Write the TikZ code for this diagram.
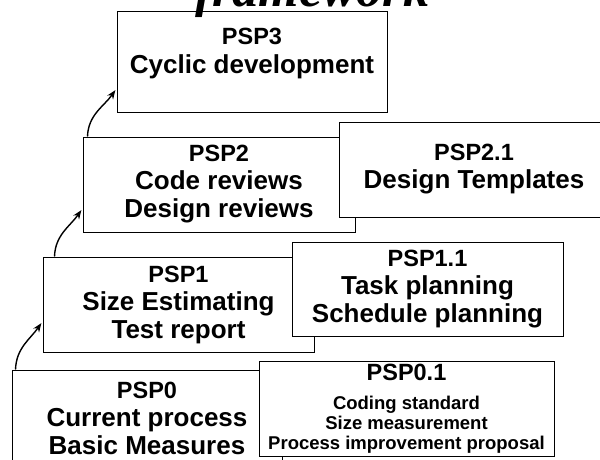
\documentclass[tikz,border=0pt]{standalone}
\usepackage{fontspec}
\setmainfont{Liberation Sans}
\newfontfamily\titlefont{Liberation Serif}
\usetikzlibrary{arrows.meta,positioning}

\begin{document}
\begin{tikzpicture}
    [
        x=1pt, y=-1pt,
        stage/.style={draw, fill=white, line width=1pt, align=center, inner sep=0pt,
            font=\fontsize{26}{28}\selectfont\bfseries},
        step up/.style={-{Stealth[length=9pt,width=7pt]}, line width=1.4pt, shorten >=2pt},
    ]
    \useasboundingbox (0,0) rectangle (600,459);
    \clip (0,0) rectangle (600,459);

    \node[stage, minimum width=270, minimum height=101,
        label={[anchor=north, align=center, inner sep=0pt, yshift=-17pt,
            font=\fontsize{26}{29}\selectfont\bfseries]north:{{\fontsize{23.5}{29}\selectfont PSP3}\\Cyclic development}}]
        (psp3) at (252, 61.5) {};
    \node[stage, minimum width=272, minimum height=95] (psp2) at (219, 184.5)
        {{\fontsize{23.5}{28}\selectfont PSP2}\\Code reviews\\Design reviews};
    \node[stage, minimum width=270, minimum height=95] (psp21) at (474, 169.5)
        {{\fontsize{23.5}{28}\selectfont PSP2.1}\\Design Templates};
    \node[stage, minimum width=271, minimum height=95] (psp1) at (178.5, 304.5)
        {{\fontsize{23.5}{28}\selectfont PSP1}\\Size Estimating\\Test report};
    \node[stage, minimum width=271, minimum height=94] (psp11) at (427.5, 289)
        {{\fontsize{23.5}{28}\selectfont PSP1.1}\\Task planning\\Schedule planning};
    \node[stage, minimum width=270, minimum height=96] (psp0) at (147, 418)
        {{\fontsize{23.5}{28}\selectfont PSP0}\\Current process\\Basic Measures};
    \node[stage, minimum width=295, minimum height=95] (psp01) at (406.5, 408.5)
        {{\fontsize{23.5}{28}\selectfont PSP0.1}\\[1pt]
        {\fontsize{18.5}{20}\selectfont Coding standard}\\[-8pt]
        {\fontsize{18.5}{20}\selectfont Size measurement}\\[-8pt]
        {\fontsize{18.5}{20}\selectfont Process improvement proposal}};

    % curved steps between levels
    \draw[step up] ([xshift=4pt]psp0.north west) to[out=88, in=235] ([yshift=-17pt]psp1.west);
    \draw[step up] ([xshift=12pt]psp1.north west) to[out=88, in=235] ([yshift=-24pt]psp2.west);
    \draw[step up] ([xshift=5pt]psp2.north west) to[out=88, in=235] ([yshift=-27pt]psp3.west);

    \node[font=\titlefont\fontsize{52}{52}\selectfont\bfseries\itshape, anchor=base] (title) at (312, 6) {framework};
\end{tikzpicture}
\end{document}
